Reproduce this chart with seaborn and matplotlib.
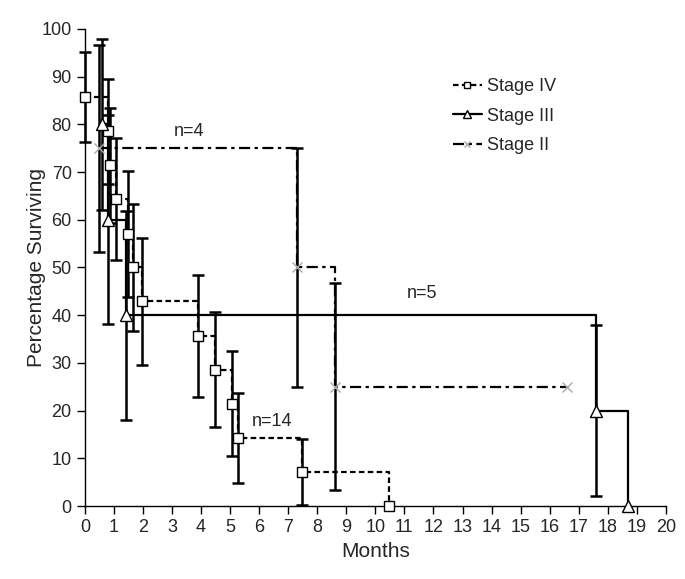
import matplotlib
matplotlib.use("Agg")
import matplotlib.pyplot as plt
from matplotlib.lines import Line2D
import seaborn as sns
import pandas as pd
import numpy as np

# ---- data ----
# Stage IV (n=14)
times4 = [0.0, 0.80, 0.86, 1.07, 1.48, 1.66, 1.97, 3.88, 4.47, 5.07, 5.28, 7.48, 10.48]
surv4 = [85.7, 78.6, 71.4, 64.3, 57.1, 50.0, 42.9, 35.7, 28.6, 21.4, 14.3, 7.1, 0.0]
lo4 = [76.4, 67.6, 59.4, 51.5, 43.9, 36.6, 29.6, 22.9, 16.5, 10.4, 4.9, 0.2]
hi4 = [95.1, 89.6, 83.5, 77.1, 70.3, 63.4, 56.1, 48.5, 40.6, 32.4, 23.6, 14.0]

# Stage III (n=5)
times3 = [0.60, 0.79, 1.40, 17.60, 18.70]
surv3 = [80.0, 60.0, 40.0, 20.0, 0.0]
lo3 = [62.1, 38.1, 18.1, 2.1]
hi3 = [97.9, 81.9, 61.9, 37.9]

# Stage II (n=4); last point is censored
times2 = [0.50, 7.29, 8.60, 16.60]
surv2 = [75.0, 50.0, 25.0, 25.0]
lo2 = [53.3, 25.0, 3.3]
hi2 = [96.7, 75.0, 46.7]

labels = ["Stage IV", "Stage III", "Stage II"]
annotations = [("n=4", 3.6, 78.5), ("n=5", 11.6, 44.6), ("n=14", 6.45, 17.7)]

xticks = list(range(0, 21))
yticks = list(range(0, 101, 10))

# ---- style ----
sns.set_style("ticks")
plt.rcParams['font.family'] = ['Liberation Sans Narrow', 'Liberation Sans', 'DejaVu Sans']

fig = plt.figure(figsize=(6.85, 5.79), dpi=100)
ax = fig.add_axes([0.124, 0.126, 0.848, 0.824])

styles = {
    "Stage IV": dict(ls=(0, (2.5, 1.5)), marker="s", mfc="white", mec="black", ms=7, lw=1.6),
    "Stage III": dict(ls="-", marker="^", mfc="white", mec="black", ms=8, lw=1.6),
    "Stage II": dict(ls=(0, (5, 2, 1.5, 2)), marker="x", mfc="none", mec="#aaaaaa", ms=7, lw=1.6),
}

series = [
    ("Stage IV", times4, surv4, lo4, hi4),
    ("Stage III", times3, surv3, lo3, hi3),
    ("Stage II", times2, surv2, lo2, hi2),
]

for name, t, s, lo, hi in series:
    st = styles[name]
    df = pd.DataFrame({"Months": t, "Surv": s})
    sns.lineplot(data=df, x="Months", y="Surv", ax=ax, estimator=None, sort=False,
                 drawstyle="steps-post", color="black", linestyle=st["ls"],
                 linewidth=st["lw"], clip_on=False, zorder=2)
    n = len(lo)
    tt = np.array(t[:n])
    ss = np.array(s[:n])
    yerr = np.vstack([ss - np.array(lo), np.array(hi) - ss])
    ax.errorbar(tt, ss, yerr=yerr, fmt="none", ecolor="black", elinewidth=1.8,
                capsize=4, capthick=1.8, zorder=3, clip_on=False)
    ax.plot(t, s, linestyle="none", marker=st["marker"], markerfacecolor=st["mfc"],
            markeredgecolor=st["mec"], markersize=st["ms"], markeredgewidth=1.0,
            zorder=4, clip_on=False)

for txt, x, y in annotations:
    ax.text(x, y, txt, fontsize=13, ha="center", va="center")

ax.set_xlim(0, 20)
ax.set_ylim(0, 100)
ax.set_xticks(xticks)
ax.set_yticks(yticks)
ax.tick_params(axis="both", labelsize=13, length=6, width=1.0, direction="out", color="black")
for sp in ["left", "bottom"]:
    ax.spines[sp].set_linewidth(1.0)
    ax.spines[sp].set_color("black")
sns.despine(ax=ax)
ax.set_xlabel("Months", fontsize=15)
ax.set_ylabel("Percentage Surviving", fontsize=15)
ax.yaxis.set_label_coords(-0.067, 0.5)
ax.xaxis.set_label_coords(0.5, -0.076)

handles = []
for name in labels:
    st = styles[name]
    handles.append(Line2D([0], [0], color="black", linestyle=st["ls"], linewidth=st["lw"],
                          marker=st["marker"], markerfacecolor=st["mfc"],
                          markeredgecolor=st["mec"], markersize=st["ms"] - 2))
ax.legend(handles, labels, loc="upper left", bbox_to_anchor=(0.633, 0.897), frameon=False,
          fontsize=13, handlelength=1.6, handletextpad=0.3, labelspacing=0.7,
          borderpad=0, borderaxespad=0)

fig.savefig("out.png", dpi=100)
